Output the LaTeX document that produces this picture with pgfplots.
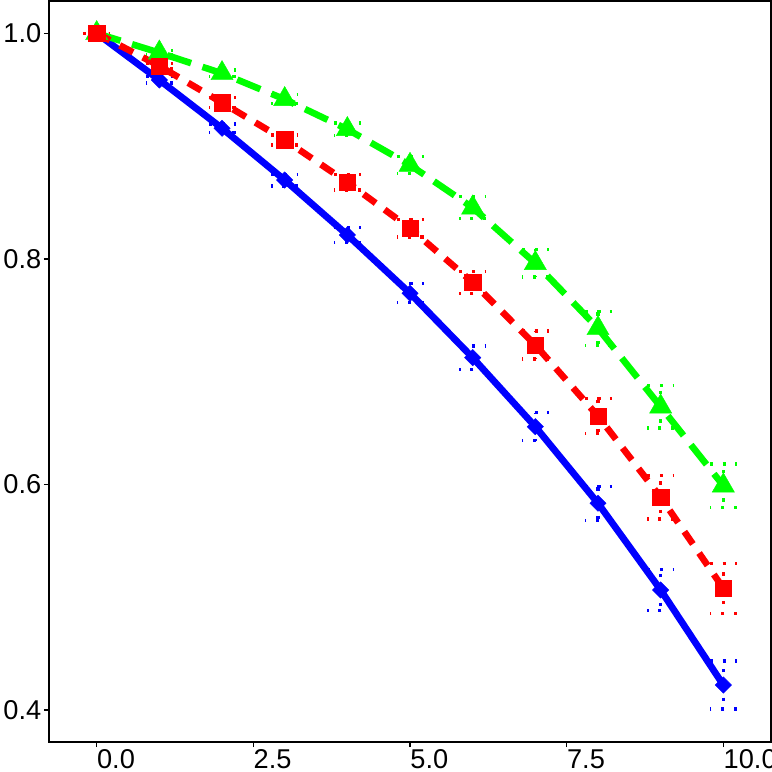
\documentclass[border=0pt]{standalone}
\usepackage{pgfplots}
\usepackage{pgfplotstable}
\pgfplotsset{compat=1.18}
\usepackage{fontspec}
\setmainfont{Liberation Sans}

\pgfplotstableread{
x y e
0 1.0 0
1 0.9586 0.0028
2 0.9158 0.0037
3 0.8699 0.0052
4 0.8212 0.0065
5 0.7695 0.0084
6 0.7124 0.0104
7 0.6512 0.0125
8 0.5833 0.0151
9 0.5064 0.0182
10 0.4221 0.0213
}\blueT
\pgfplotstableread{
x y e
0 1.0 0
1 0.9710 0.0025
2 0.9385 0.0044
3 0.9054 0.0044
4 0.8679 0.0068
5 0.8271 0.0078
6 0.7792 0.0098
7 0.7236 0.0125
8 0.6606 0.0157
9 0.5886 0.0192
10 0.5079 0.0222
}\redT
\pgfplotstableread{
x y e
0 1.0 0
1 0.9828 0.0020
2 0.9645 0.0030
3 0.9415 0.0040
4 0.9149 0.0055
5 0.8832 0.0077
6 0.8454 0.0096
7 0.7961 0.0123
8 0.7384 0.0151
9 0.6689 0.0190
10 0.5989 0.0193
}\greenT

\definecolor{cB}{RGB}{0,0,255}
\definecolor{cR}{RGB}{255,0,0}
\definecolor{cG}{RGB}{0,255,0}

\pgfplotsset{
  ebar/.style={only marks, mark=none,
    error bars/.cd, y dir=both, y explicit,
    error bar style={line width=1.65pt, dash pattern=on 1.65pt off 4.7pt, #1},
    error mark=-,
    error mark options={rotate=90, mark size=6.75pt, line width=1.65pt, dash pattern=on 1.65pt off 4.7pt, #1}},
}

\begin{document}
\begin{tikzpicture}
\begin{axis}[
  scale only axis, width=360.85pt, height=370.25pt,
  xmin=-0.761, xmax=10.756, ymin=0.3716, ymax=1.0282,
  axis line style={line width=1pt, black},
  xtick={0,2.5,5,7.5,10}, xticklabels={0.0,2.5,5.0,7.5,10.0},
  ytick={0.4,0.6,0.8,1.0}, yticklabels={0.4,0.6,0.8,1.0},
  tick align=outside, xtick pos=left, ytick pos=left,
  major tick length=2.5pt, tick style={line width=0.8pt, black},
  ticklabel style={font=\fontsize{13.6}{16}\selectfont, inner sep=0pt},
  xticklabel style={anchor=north west, yshift=-1.2pt},
  yticklabel style={anchor=east, xshift=-1.2pt},
]
\coordinate (SW) at (rel axis cs:0,0);
\coordinate (NE) at (rel axis cs:1,1);
% error bars
\addplot[ebar=cB] table[x=x, y=y, y error=e] {\blueT};
\addplot[ebar=cG] table[x=x, y=y, y error=e] {\greenT};
\addplot[ebar=cR] table[x=x, y=y, y error=e] {\redT};
% lines
\addplot[cB, line width=3.4pt, mark=none] table[x=x, y=y] {\blueT};
\addplot[cG, line width=3.3pt, dash pattern=on 12.5pt off 6pt, mark=none] table[x=x, y=y] {\greenT};
\addplot[cR, line width=3.3pt, dash pattern=on 7.5pt off 5.5pt, mark=none] table[x=x, y=y] {\redT};
% markers
\addplot[only marks, mark=square*, mark size=2.9pt, mark options={solid, fill=cB, draw=cB, line width=0.2pt, rotate=45}] table[x=x, y=y] {\blueT};
\addplot[only marks, mark=triangle*, mark size=6.4pt, mark options={solid, fill=cG, draw=cG, line width=0.2pt}] table[x=x, y=y] {\greenT};
\addplot[only marks, mark=square*, mark size=4.15pt, mark options={solid, fill=cR, draw=cR, line width=0.2pt}] table[x=x, y=y] {\redT};
\end{axis}
\pgfresetboundingbox
\path[use as bounding box] ([xshift=-24.5pt, yshift=-15pt]SW) rectangle ([xshift=0.65pt, yshift=0.75pt]NE);
\end{tikzpicture}
\end{document}
